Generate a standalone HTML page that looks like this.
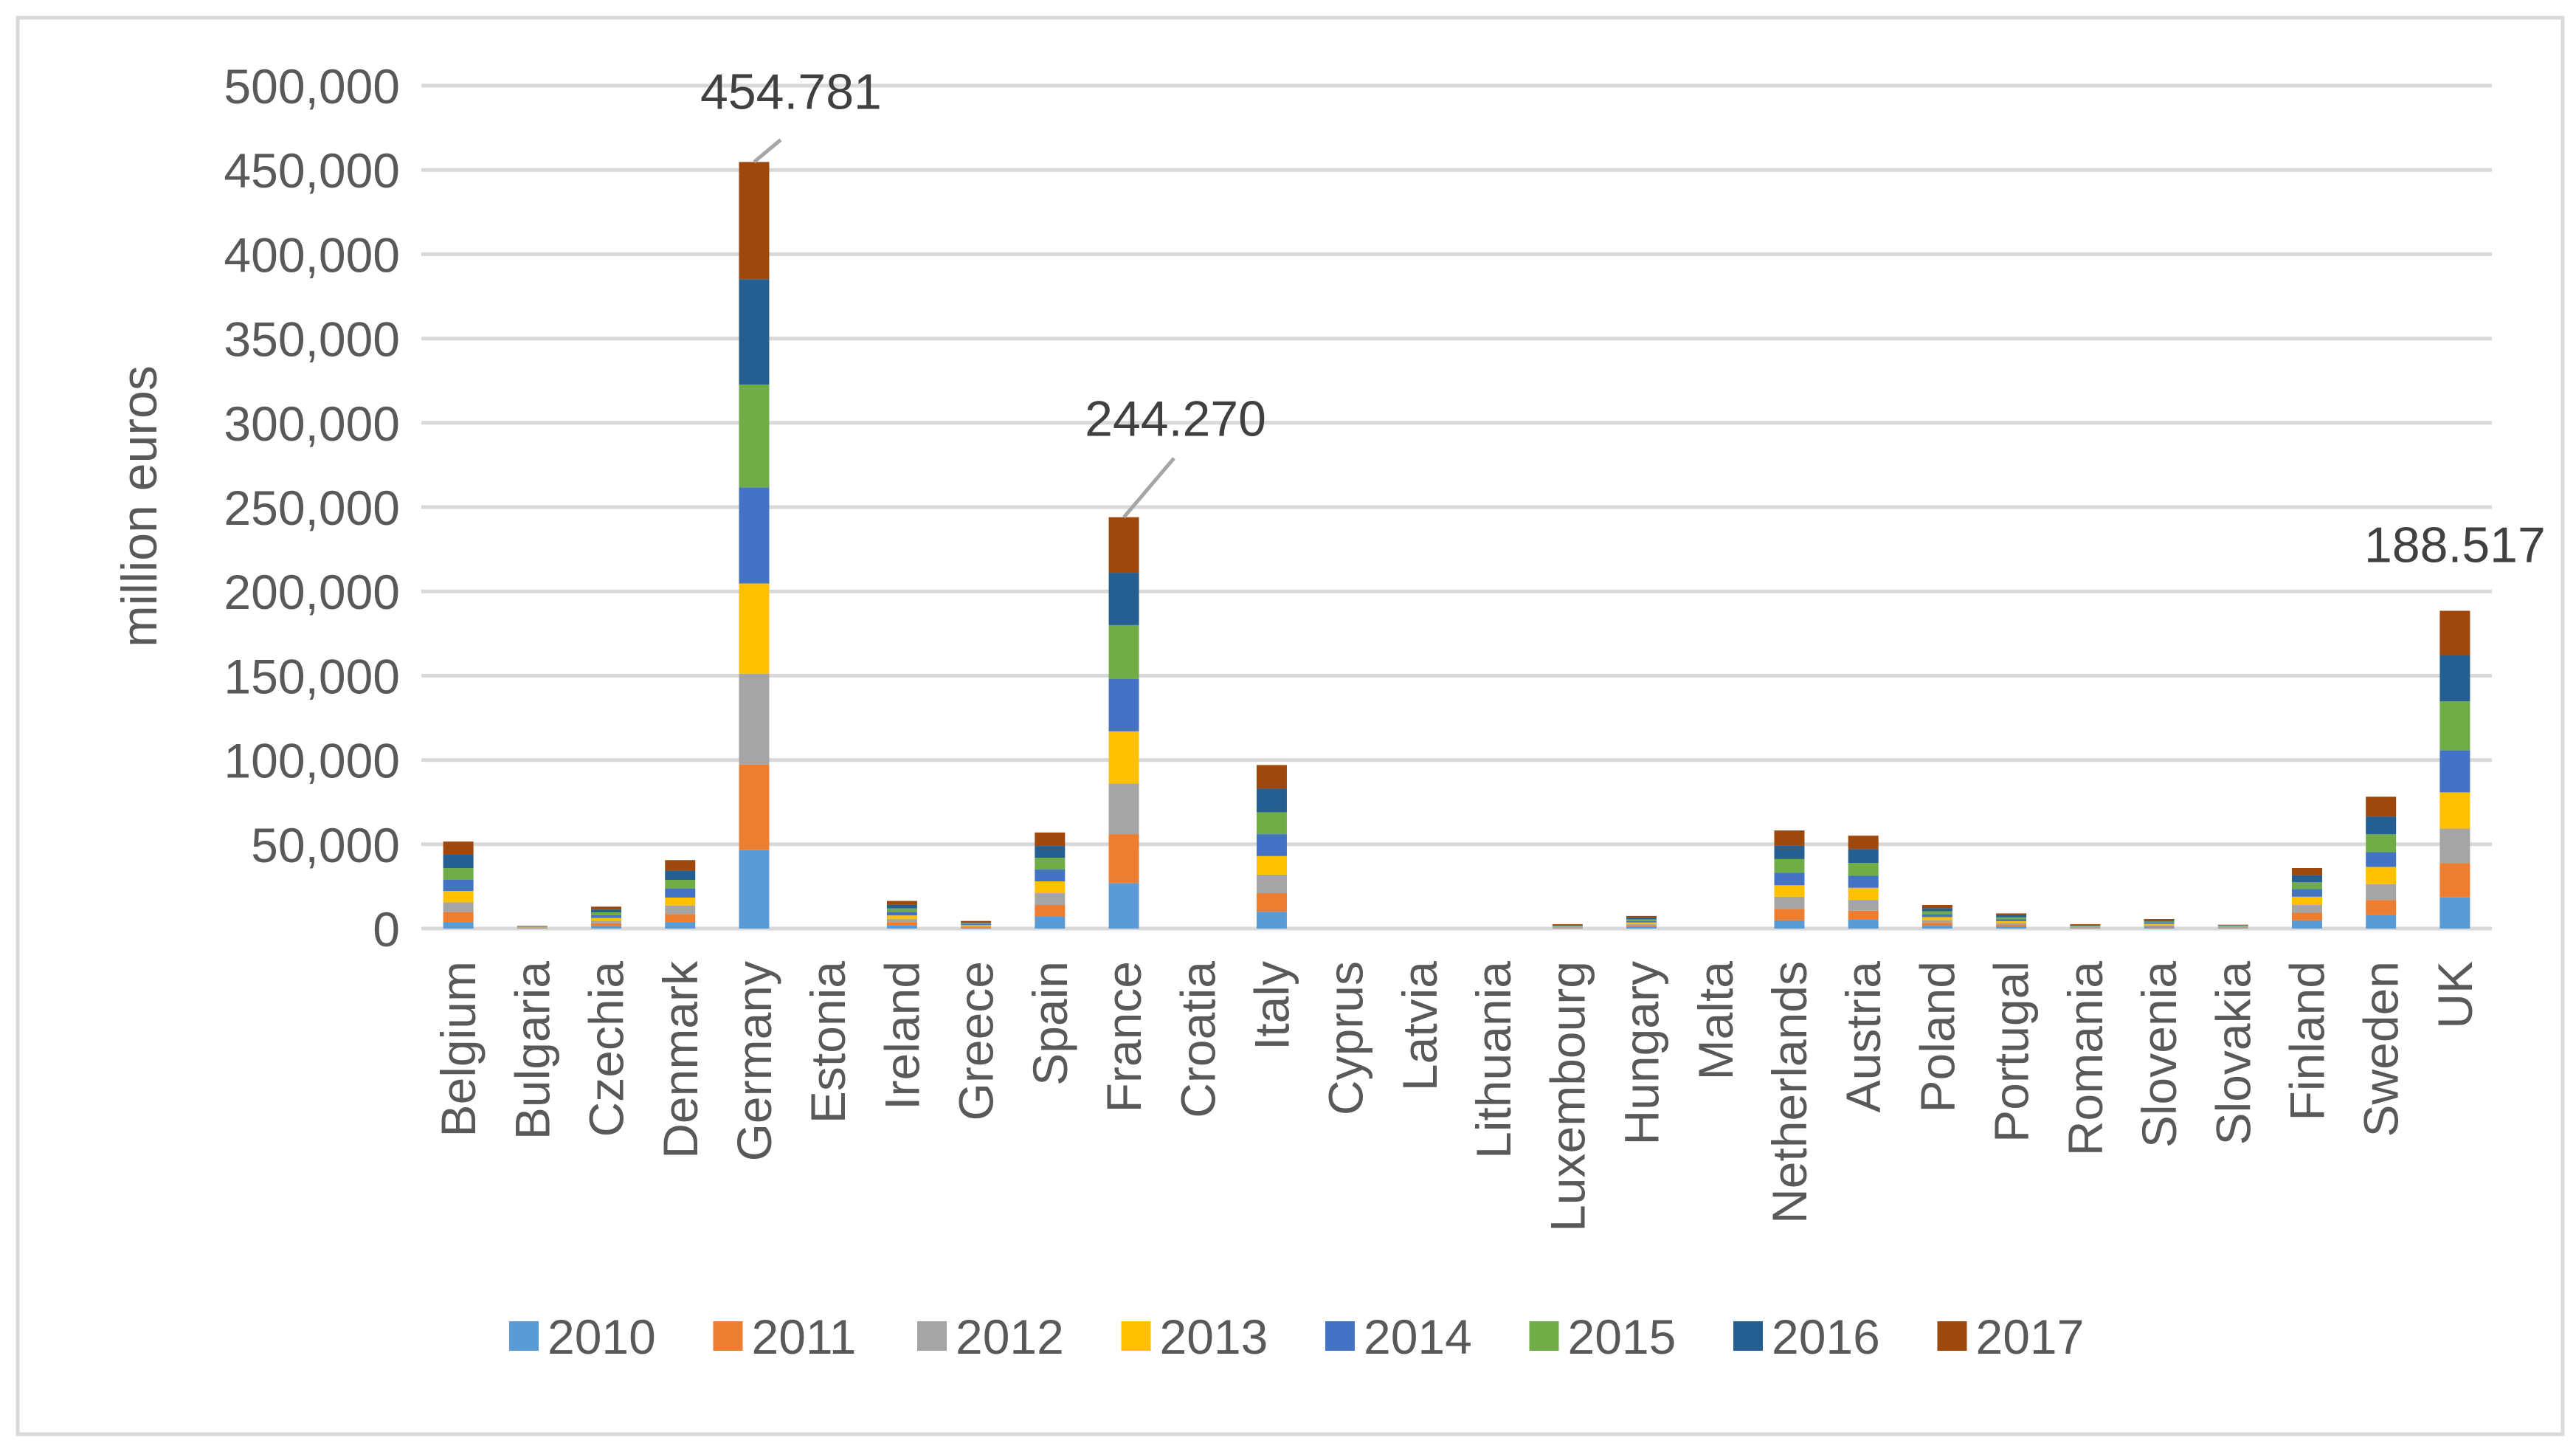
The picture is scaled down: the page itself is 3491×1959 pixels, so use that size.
<!DOCTYPE html>
<html><head><meta charset="utf-8"><style>
html,body{margin:0;padding:0;background:#fff;}
svg text{font-family:"Liberation Sans",sans-serif;}
</style></head><body>
<svg id="chart" width="3491" height="1954" viewBox="0 0 3491 1954" xmlns="http://www.w3.org/2000/svg">
<rect x="24" y="24" width="3449" height="1919" fill="#fff" stroke="#d9d9d9" stroke-width="5"/>
<g id="grid"></g><g id="bars"></g><g id="labels"></g>
<text transform="translate(212,686) rotate(-90)" text-anchor="middle" font-size="68" fill="#595959">million euros</text>
<g id="legend"></g>
<g id="annot"></g>
</svg>
<script>
const categories=["Belgium","Bulgaria","Czechia","Denmark","Germany","Estonia","Ireland","Greece","Spain","France","Croatia","Italy","Cyprus","Latvia","Lithuania","Luxembourg","Hungary","Malta","Netherlands","Austria","Poland","Portugal","Romania","Slovenia","Slovakia","Finland","Sweden","UK"];
const years=["2010","2011","2012","2013","2014","2015","2016","2017"];
const s2010=[3.9,0.2,1.5,3.9,46.5,0,1.8,0.5,7,27,0,10,0,0,0,0.3,0.9,0,4.9,5.3,1.7,1.1,0.3,0.7,0.3,4.9,7.9,18.5];
const s2011=[5.9,0.2,1.6,4.7,50.8,0,2.0,0.5,7,29,0,11,0,0,0,0.3,0.9,0,6.8,5.3,1.7,1.1,0.3,0.7,0.3,4.5,9.1,20.4];
const s2012=[5.8,0.2,1.6,5.1,53.9,0,2.0,0.5,7,30,0,11,0,0,0,0.3,0.9,0,7.2,6.4,1.7,1.1,0.3,0.7,0.3,4.6,9.4,20.4];
const s2013=[6.7,0.2,1.6,4.7,53.5,0,2.0,0.6,7,31,0,11,0,0,0,0.3,0.9,0,6.8,7.2,1.7,1.1,0.3,0.7,0.3,4.9,10.2,21.5];
const s2014=[6.6,0.2,1.6,5.4,57.0,0,2.1,0.6,7,31,0,13,0,0,0,0.3,0.9,0,7.5,7.1,1.7,1.1,0.3,0.7,0.3,4.5,8.7,24.9];
const s2015=[7.0,0.2,1.7,5.1,61.0,0,2.1,0.6,7,32,0,13,0,0,0,0.3,1.0,0,8.0,7.6,1.8,1.2,0.3,0.7,0.3,4.2,10.6,29.1];
const s2016=[7.9,0.2,1.7,5.5,62.5,0,2.2,0.6,7,31,0,14,0,0,0,0.4,1.0,0,7.9,8.3,1.8,1.2,0.4,0.7,0.3,4.1,10.6,27.2];
const s2017=[7.8,0.2,1.7,6.2,69.5,0,2.2,0.6,8,33,0,14,0,0,0,0.4,1.0,0,9.1,7.9,1.9,1.1,0.4,0.8,0.2,4.2,11.7,26.5];
const yTicks=[0,50000,100000,150000,200000,250000,300000,350000,400000,450000,500000];
const tickLabels=["0","50,000","100,000","150,000","200,000","250,000","300,000","350,000","400,000","450,000","500,000"];
const colors=["#5B9BD5","#ED7D31","#A5A5A5","#FFC000","#4472C4","#70AD47","#255E91","#9E480E"];
const annotCats=["Germany","France","UK"];
const annotText=["454.781","244.270","188.517"];
const series=[s2010,s2011,s2012,s2013,s2014,s2015,s2016,s2017];
const NS="http://www.w3.org/2000/svg";
const X0=571,X1=3377,Y0=1258,Y1=116,VMAX=500000;
const band=(X1-X0)/categories.length, bw=41;
const y=v=>Y0-(v/VMAX)*(Y0-Y1);
const xc=i=>X0+band*(i+0.5);
function mk(tag,attrs,parent){const e=document.createElementNS(NS,tag);for(const k in attrs)e.setAttribute(k,attrs[k]);parent.appendChild(e);return e;}
const grid=document.getElementById('grid');
yTicks.forEach((t,i)=>{
 const l=mk('line',{x1:X0,x2:X1,y1:y(t),y2:y(t),stroke:'#d9d9d9','stroke-width':5},grid);
 
 
 const tx=mk('text',{x:542,y:y(t)+24,'text-anchor':'end','font-size':66,fill:'#595959'},grid);
 tx.textContent=tickLabels[i];
 
 
});
const bars=document.getElementById('bars');
categories.forEach((c,i)=>{
 let acc=0;
 series.forEach((s,k)=>{
  const v=s[i]*1000;
  const r=mk('rect',{x:xc(i)-bw/2,y:y(acc+v),width:bw,height:y(acc)-y(acc+v),fill:colors[k]},bars);
  
  
  acc+=v;
 });
 const t=mk('text',{transform:`translate(${xc(i)+23},1302) rotate(-90)`,'text-anchor':'end','font-size':66,fill:'#595959'},document.getElementById('labels'));
 t.textContent=c;
 
 
});
const ax=mk('line',{x1:X0,x2:X1,y1:Y0,y2:Y0,stroke:'#d9d9d9','stroke-width':5},grid);


const lg=document.getElementById('legend');
years.forEach((yr,k)=>{
 const lx=690+k*276.5;
 const r=mk('rect',{x:lx,y:1790,width:40,height:40,fill:colors[k]},lg);
 
 
 const t=mk('text',{x:lx+52,y:1834,'font-size':66,fill:'#595959'},lg);
 t.textContent=yr;
 
 
});
const an=document.getElementById('annot');
// [label dx, label dy, leader end dx, leader end dy]
const offs=[[50,-72,36,-30],[70,-110,68,-80],[0,-66,0,0]];
annotCats.forEach((c,j)=>{
 const i=categories.indexOf(c);
 let tot=0;series.forEach(s=>tot+=s[i]*1000);
 const bx=xc(i),by=y(tot);
 const [dx,dy,ldx,ldy]=offs[j];
 if(ldy!==0){
  const l=mk('line',{x1:bx,y1:by,x2:bx+ldx,y2:by+ldy,stroke:'#a6a6a6','stroke-width':5},an);
  
  
 }
 const t=mk('text',{x:bx+dx,y:by+dy,'text-anchor':'middle','font-size':68,fill:'#404040'},an);
 t.textContent=annotText[j];
 
 
});
</script>
</body></html>
